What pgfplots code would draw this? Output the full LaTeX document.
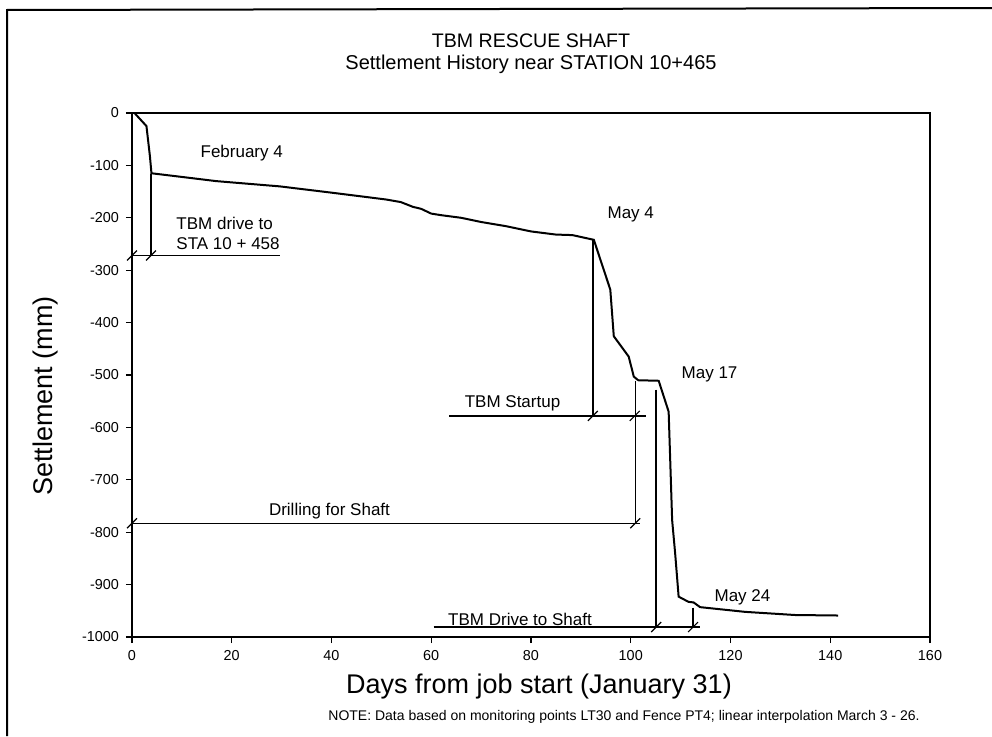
\documentclass[border=0pt]{standalone}
\usepackage{pgfplots}
\pgfplotsset{compat=1.18}
\usepackage{fontspec}
\setmainfont{Liberation Sans}
\tikzset{lbl/.style={font=\fontsize{8.5}{10}\selectfont}}
\begin{document}
\begin{tikzpicture}
\useasboundingbox (0pt,0pt) rectangle (496pt,368pt);
% outer frame of the scanned page
\draw[line width=1pt] (3.5pt,0pt) -- (3.5pt,363pt) -- (496pt,364pt);
\node[font=\fontsize{9.8}{12}\selectfont] at (265.5pt,347.5pt) {TBM RESCUE SHAFT};
\node[font=\fontsize{10}{12}\selectfont] at (265.5pt,336pt) {Settlement History near STATION 10+465};
\node[font=\fontsize{7}{9}\selectfont, anchor=east, inner sep=0pt] at (460pt,9.5pt)
  {NOTE: Data based on monitoring points LT30 and Fence PT4; linear interpolation March 3 - 26.};
\begin{axis}[
  at={(66pt,49.5pt)}, anchor=south west,
  scale only axis, width=399pt, height=262pt,
  xmin=0, xmax=160, ymin=-1000, ymax=0,
  xtick={0,20,...,160}, ytick={-1000,-900,...,0},
  tick align=outside, tick pos=left, major tick length=3pt,
  axis line style={line width=0.8pt},
  every tick/.style={black, line width=0.6pt},
  ticklabel style={font=\fontsize{7.2}{8}\selectfont},
  /pgf/number format/assume math mode=true,
  /pgf/number format/1000 sep={},
  xlabel={Days from job start (January 31)},
  ylabel={Settlement (mm)},
  label style={font=\fontsize{13.5}{15}\selectfont},
  xlabel style={at={(axis description cs:0.51,-0.095)}, anchor=center},
  ylabel style={at={(axis description cs:-0.109,0.46)}, anchor=center},
  clip=false,
  annot/.style={black, line width=0.7pt},
  slash/.style={black, only marks, mark=|, mark size=3.5pt, mark options={rotate=-45, line width=0.6pt}},
]
% settlement history
\addplot[black, line width=1pt] coordinates {
(0.5,0) (2.9,-25) (3.6,-83) (3.9,-115) (10,-122) (16.9,-130) (29.6,-140)
(40,-152) (50.9,-165) (53.9,-170) (56.3,-179) (58,-183) (60,-192) (62,-195)
(66,-200) (70,-208) (75,-216) (80,-226) (85,-232) (88.3,-233) (92.6,-242)
(95.9,-337) (96.6,-426) (99.6,-465) (100.6,-503) (101.5,-510) (105.6,-511)
(107.6,-570) (108.3,-777) (108.9,-840) (109.6,-923) (111.6,-933) (112.6,-934)
(113.9,-943) (122.9,-952) (132.9,-958) (141.6,-959)
};
% event markers
\addplot[annot] coordinates {(3.8,-117) (3.8,-272)};
\addplot[annot] coordinates {(0,-272) (29.7,-272)};
\addplot[slash] coordinates {(0,-272) (3.8,-272)};
\addplot[annot] coordinates {(92.4,-242) (92.4,-578)};
\addplot[annot] coordinates {(63.6,-578) (103.1,-578)};
\addplot[slash] coordinates {(92.4,-578) (100.8,-578)};
\addplot[annot] coordinates {(100.9,-511) (100.9,-783)};
\addplot[annot] coordinates {(0,-783) (101.9,-783)};
\addplot[slash] coordinates {(0,-783) (100.9,-783)};
\addplot[annot] coordinates {(105.1,-528) (105.1,-981)};
\addplot[annot] coordinates {(112.5,-944) (112.5,-981)};
\addplot[annot] coordinates {(60.5,-981) (113.9,-981)};
\addplot[slash] coordinates {(105.1,-981) (112.5,-981)};
\node[lbl] at (axis cs:22,-76) {February 4};
\node[lbl, anchor=west, align=left] at (axis cs:7.5,-230) {TBM drive to\\STA 10 + 458};
\node[lbl] at (axis cs:100,-194) {May 4};
\node[lbl] at (axis cs:76.3,-555) {TBM Startup};
\node[lbl] at (axis cs:39.6,-760) {Drilling for Shaft};
\node[lbl] at (axis cs:115.8,-498) {May 17};
\node[lbl] at (axis cs:77.8,-966) {TBM Drive to Shaft};
\node[lbl] at (axis cs:122.4,-924) {May 24};
\end{axis}
\end{tikzpicture}
\end{document}
